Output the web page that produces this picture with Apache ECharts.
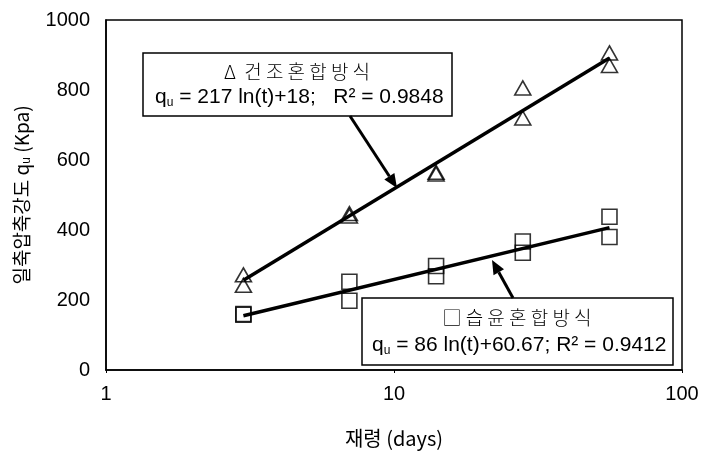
<!DOCTYPE html>
<html>
<head>
<meta charset="utf-8">
<script src="https://cdn.jsdelivr.net/npm/echarts@6/dist/echarts.min.js"></script>
<style>
  html, body { margin: 0; padding: 0; background: #fff; }
  #chart { width: 703px; height: 453px; }
</style>
</head>
<body>
<div id="chart"></div>
<script>
// Curing age (days) and unconfined compressive strength q_u (kPa)
const dryDays = [3, 3, 7, 7, 14, 14, 28, 28, 56, 56];
const dryStrength = [272, 242, 447, 440, 565, 560, 806, 720, 906, 870];
const wetDays = [3, 3, 7, 7, 14, 14, 28, 28, 56, 56];
const wetStrength = [160, 158, 252, 198, 297, 268, 367, 335, 438, 380];

// Logarithmic fits q_u = a ln(t) + b, drawn over the tested age range
const dryFit = { a: 217, b: 18 };
const wetFit = { a: 86, b: 60.67 };
const fitRange = [3, 56];

const yTicks = [0, 200, 400, 600, 800, 1000];

const pairs = (xs, ys) => xs.map((x, i) => [x, ys[i]]);
const fitLine = f => fitRange.map(t => [t, f.a * Math.log(t) + f.b]);

const FONT = '"Liberation Sans", Arial, sans-serif';
const KFONT = '"Noto Sans CJK KR", sans-serif';

const chart = echarts.init(document.getElementById('chart'));

// Arrow with a filled head, from (x1,y1) to the tip (x2,y2)
function arrow(x1, y1, x2, y2) {
  const ang = Math.atan2(y2 - y1, x2 - x1);
  const L = 14, W = 6;
  const bx = x2 - L * Math.cos(ang), by = y2 - L * Math.sin(ang);
  const px = -Math.sin(ang) * W, py = Math.cos(ang) * W;
  return [
    { type: 'line', z: 20, shape: { x1, y1, x2: bx, y2: by },
      style: { stroke: '#000', lineWidth: 3 } },
    { type: 'polygon', z: 20,
      shape: { points: [[x2, y2], [bx + px, by + py], [bx - px, by - py]] },
      style: { fill: '#000' } }
  ];
}

const eqRich = {
  b: { fontFamily: FONT, fontSize: 21, color: '#000' },
  s: { fontFamily: FONT, fontSize: 12, color: '#000', padding: [11, 0, 0, 0] }
};

chart.setOption({
  animation: false,
  backgroundColor: '#fff',
  grid: { left: 106, right: 21, top: 20, bottom: 80, show: true,
          borderColor: '#000', borderWidth: 1.5, backgroundColor: 'transparent' },
  xAxis: {
    type: 'log', logBase: 10, min: 1, max: 100,
    name: '재령 (days)', nameLocation: 'middle', nameGap: 58,
    nameTextStyle: { fontFamily: KFONT, fontSize: 20, color: '#000' },
    axisLine: { lineStyle: { color: '#000', width: 1.5 } },
    axisTick: { show: true, length: 3, lineStyle: { color: '#000' } },
    minorTick: { show: false },
    splitLine: { show: false },
    axisLabel: { fontFamily: FONT, fontSize: 20, color: '#000', margin: 14 }
  },
  yAxis: {
    type: 'value', min: yTicks[0], max: yTicks[yTicks.length - 1], interval: 200,
    name: '일축압축강도 q{s|u} (Kpa)', nameLocation: 'middle', nameGap: 73,
    nameTextStyle: { fontFamily: KFONT, fontSize: 19, color: '#000',
      rich: { s: { fontFamily: FONT, fontSize: 12, color: '#000', padding: [11, 0, 0, 0] } } },
    axisLine: { show: true, lineStyle: { color: '#000', width: 1.5 } },
    axisTick: { show: false },
    splitLine: { show: false },
    axisLabel: { fontFamily: FONT, fontSize: 20, color: '#000', margin: 16,
                 formatter: v => String(v) }
  },
  series: [
    { type: 'scatter', name: '건조혼합방식', data: pairs(dryDays, dryStrength),
      symbol: 'triangle', symbolSize: [16, 14], z: 3,
      itemStyle: { color: 'rgba(255,255,255,0)', borderColor: '#000', borderWidth: 1.6 } },
    { type: 'scatter', name: '습윤혼합방식', data: pairs(wetDays, wetStrength),
      symbol: 'rect', symbolSize: [15, 15], z: 3,
      itemStyle: { color: 'rgba(255,255,255,0)', borderColor: '#000', borderWidth: 1.6 } },
    { type: 'line', data: fitLine(dryFit), showSymbol: false, z: 4,
      lineStyle: { color: '#000', width: 3.5 } },
    { type: 'line', data: fitLine(wetFit), showSymbol: false, z: 4,
      lineStyle: { color: '#000', width: 3.5 } }
  ],
  graphic: [
    // dry-mix fit annotation
    { type: 'rect', z: 10, shape: { x: 143, y: 53, width: 309, height: 63 },
      style: { fill: '#fff', stroke: '#000', lineWidth: 1.5 } },
    { type: 'text', z: 11, x: 297, y: 72,
      style: { text: 'Δ  건 조 혼 합 방 식', fontFamily: KFONT, fontSize: 19, fontWeight: 300,
               fill: '#000', align: 'center', verticalAlign: 'middle' } },
    { type: 'text', z: 11, x: 155, y: 97,
      style: { text: '{b|q}{s|u}{b| = 217 ln(t)+18;   R² = 0.9848}', rich: eqRich,
               align: 'left', verticalAlign: 'middle' } },
    ...arrow(350, 116, 397, 188),
    // wet-mix fit annotation
    { type: 'rect', z: 10, shape: { x: 362, y: 298, width: 311, height: 67 },
      style: { fill: '#fff', stroke: '#000', lineWidth: 1.5 } },
    { type: 'text', z: 11, x: 517, y: 318,
      style: { text: '□ 습 윤 혼 합 방 식', fontFamily: KFONT, fontSize: 19, fontWeight: 300,
               fill: '#000', align: 'center', verticalAlign: 'middle' } },
    { type: 'text', z: 11, x: 372, y: 345,
      style: { text: '{b|q}{s|u}{b| = 86 ln(t)+60.67; R² = 0.9412}', rich: eqRich,
               align: 'left', verticalAlign: 'middle' } },
    ...arrow(513, 298, 492, 260)
  ]
});
</script>
</body>
</html>
